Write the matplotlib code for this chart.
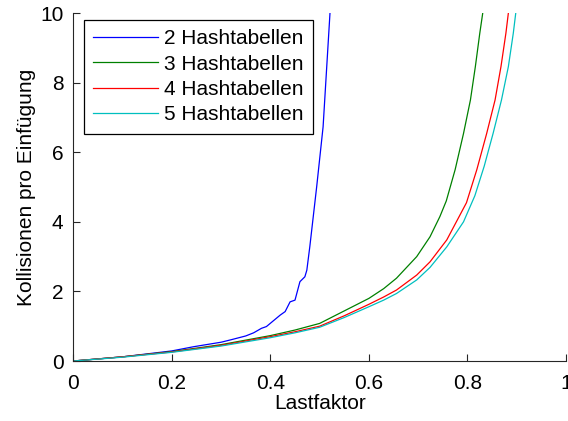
import matplotlib
matplotlib.use("Agg")
import matplotlib.pyplot as plt

plt.rcParams['font.family'] = ['Liberation Sans', 'DejaVu Sans']

# Lastfaktor / Kollisionen pro Einfuegung
x2 = [0, 0.1, 0.2, 0.244, 0.3, 0.32, 0.35, 0.366, 0.382, 0.392, 0.42, 0.43,
      0.44, 0.45, 0.46, 0.47, 0.474, 0.48, 0.494, 0.507, 0.521]
y2 = [0, 0.12, 0.29, 0.41, 0.54, 0.61, 0.72, 0.81, 0.94, 0.99, 1.32, 1.42,
      1.70, 1.75, 2.28, 2.42, 2.61, 3.28, 5.01, 6.73, 10.0]

x3 = [0, 0.1, 0.2, 0.3, 0.4, 0.45, 0.5, 0.55, 0.6, 0.63, 0.656, 0.697, 0.724,
      0.744, 0.757, 0.775, 0.792, 0.806, 0.816, 0.825, 0.831]
y3 = [0, 0.12, 0.27, 0.47, 0.73, 0.89, 1.08, 1.44, 1.80, 2.08, 2.38, 3.0, 3.57,
      4.15, 4.6, 5.5, 6.54, 7.5, 8.46, 9.42, 10.0]

x4 = [0, 0.1, 0.2, 0.3, 0.4, 0.45, 0.5, 0.55, 0.6, 0.63, 0.656, 0.697, 0.724,
      0.758, 0.798, 0.819, 0.839, 0.856, 0.868, 0.878, 0.883]
y4 = [0, 0.12, 0.26, 0.45, 0.70, 0.84, 1.0, 1.30, 1.63, 1.84, 2.04, 2.47, 2.85,
      3.48, 4.55, 5.5, 6.54, 7.5, 8.46, 9.42, 10.0]

x5 = [0, 0.1, 0.2, 0.3, 0.4, 0.45, 0.5, 0.55, 0.6, 0.63, 0.656, 0.697, 0.724,
      0.758, 0.792, 0.815, 0.834, 0.852, 0.869, 0.883, 0.893, 0.898]
y5 = [0, 0.11, 0.25, 0.43, 0.67, 0.81, 0.97, 1.25, 1.56, 1.75, 1.94, 2.33, 2.69,
      3.28, 4.0, 4.75, 5.6, 6.54, 7.5, 8.46, 9.42, 10.0]

labels = ["2 Hashtabellen", "3 Hashtabellen", "4 Hashtabellen", "5 Hashtabellen"]
colors = ["#0000ff", "#008000", "#ff0000", "#00bfbf"]

fig = plt.figure(figsize=(5.68, 4.21), dpi=100)
ax = fig.add_axes([0.129, 0.1425, 0.8675, 0.8265])

for xs, ys, lab, c in zip([x2, x3, x4, x5], [y2, y3, y4, y5], labels, colors):
    ax.plot(xs, ys, color=c, linewidth=0.9, label=lab)

ax.set_xlim(0, 1)
ax.set_ylim(0, 10)
ax.set_xticks([0, 0.2, 0.4, 0.6, 0.8, 1])
ax.set_xticklabels(["0", "0.2", "0.4", "0.6", "0.8", "1"])
ax.set_yticks([0, 2, 4, 6, 8, 10])

ax.spines['top'].set_visible(False)
ax.spines['right'].set_visible(False)
for s in ['left', 'bottom']:
    ax.spines[s].set_color('#262626')
    ax.spines[s].set_linewidth(0.8)
ax.tick_params(direction='in', length=5, width=0.8, colors='#262626',
               labelcolor='black', labelsize=15)
ax.tick_params(axis='x', pad=9)
ax.tick_params(axis='y', pad=7)

ax.set_xlabel("Lastfaktor", fontsize=15, labelpad=1)
ax.set_ylabel("Kollisionen pro Einfügung", fontsize=15, labelpad=3)

leg = ax.legend(loc='upper left', bbox_to_anchor=(0.0217, 0.98), borderaxespad=0,
                fontsize=15, handlelength=3.1, handletextpad=0.3,
                labelspacing=0.3, borderpad=0.45, fancybox=False,
                framealpha=1, edgecolor='black')
leg.get_frame().set_linewidth(0.9)

plt.savefig("out.png", dpi=100)
plt.close()
